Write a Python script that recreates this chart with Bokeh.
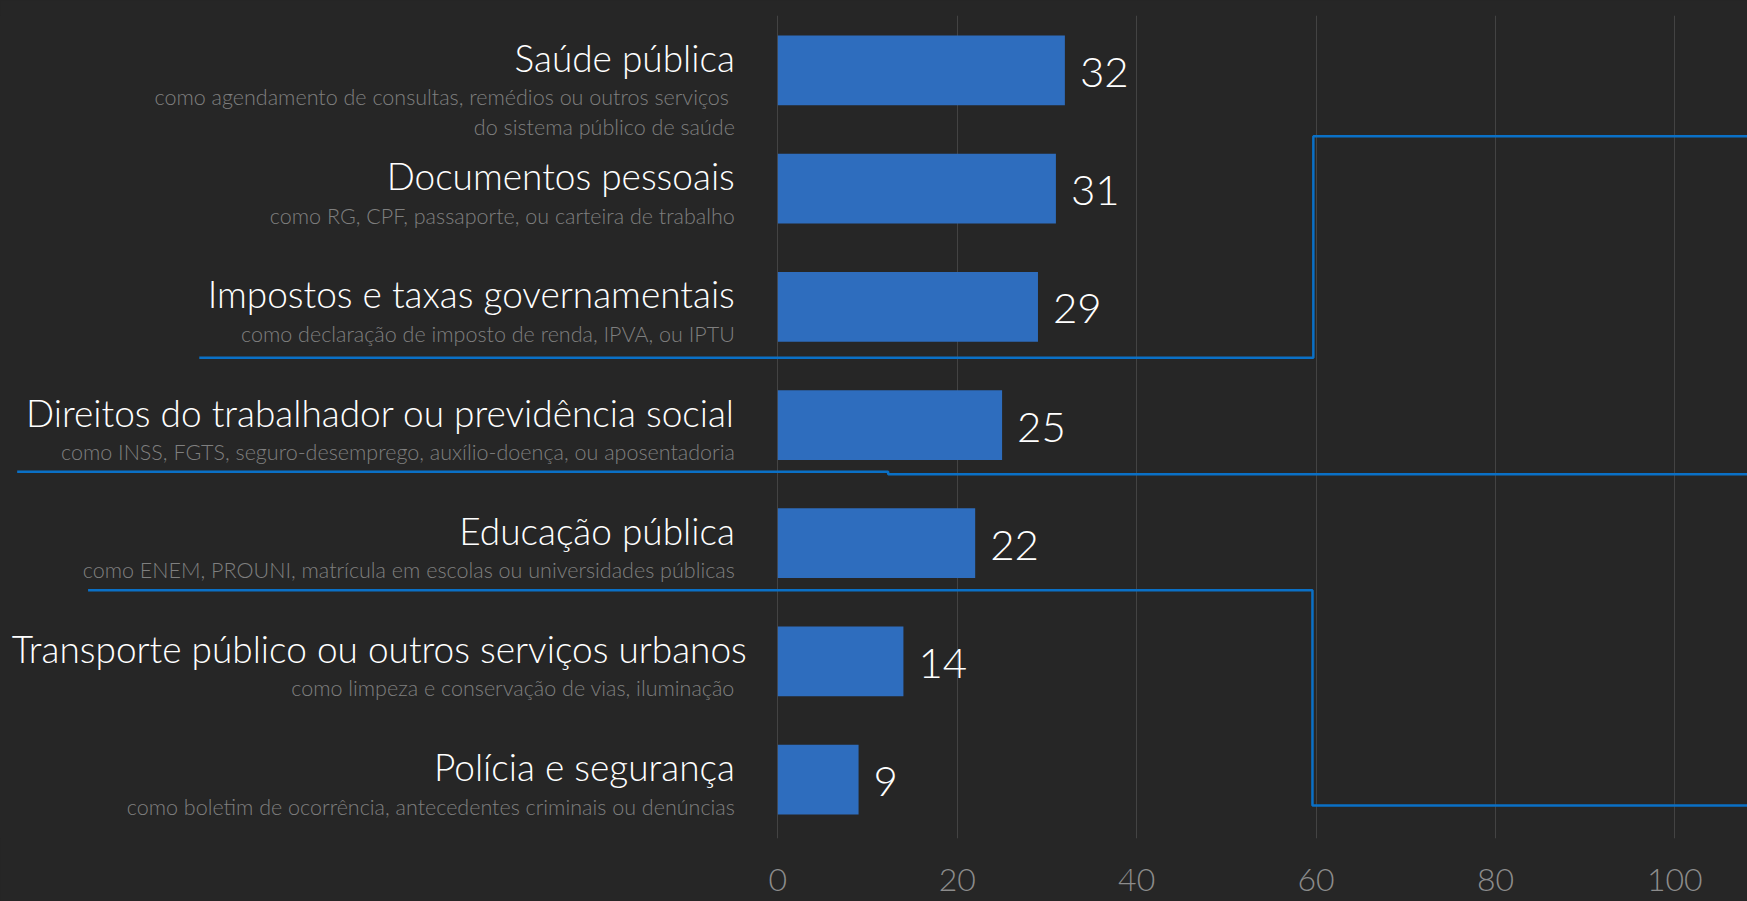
from bokeh.plotting import figure
from bokeh.models import ColumnDataSource, Range1d, FixedTicker
from bokeh.core.properties import value
from bokeh.embed import file_html
from bokeh.resources import INLINE

# ---------------- data ----------------
categories = [
    "Saúde pública",
    "Documentos pessoais",
    "Impostos e taxas governamentais",
    "Direitos do trabalhador ou previdência social",
    "Educação pública",
    "Transporte público ou outros serviços urbanos",
    "Polícia e segurança",
]
subtitles = [
    ["como agendamento de consultas, remédios ou outros serviços ", "do sistema público de saúde"],
    ["como RG, CPF, passaporte, ou carteira de trabalho"],
    ["como declaração de imposto de renda, IPVA, ou IPTU"],
    ["como INSS, FGTS, seguro-desemprego, auxílio-doença, ou aposentadoria"],
    ["como ENEM, PROUNI, matrícula em escolas ou universidades públicas"],
    ["como limpeza e conservação de vias, iluminação"],
    ["como boletim de ocorrência, antecedentes criminais ou denúncias"],
]
values = [32, 31, 29, 25, 22, 14, 9]
x_ticks = [0, 20, 40, 60, 80, 100]

# blue step connector lines (x in value units, y in row units)
line1_x = [-64.5, 59.7, 59.7, 115]
line1_y = [2.431, 2.431, 0.557, 0.557]
line2_x = [-84.8, 12.3, 12.3, 115]
line2_y = [3.396, 3.396, 3.416, 3.416]
line3_x = [-76.9, 59.6, 59.6, 115]
line3_y = [4.398, 4.398, 6.219, 6.219]

# ---------------- style ----------------
BG = "#262626"
BAR = "#2E6DBE"
LINE = "#0A70C6"
GRID = "#434343"
FONT = "Lato Light"

rows = list(range(len(categories)))

p = figure(
    frame_width=1747, frame_height=823,
    x_range=Range1d(-86.66, 108.1),
    y_range=Range1d(6.498, -0.4645),
    output_backend="svg", toolbar_location=None,
    y_axis_location=None,
    min_border_top=15, min_border_bottom=63, min_border_left=0, min_border_right=0,
    background_fill_color=BG, border_fill_color=BG, outline_line_color=None,
)
p.styles = {"background-color": BG}

# grid / axis
p.ygrid.visible = False
p.xgrid.grid_line_color = GRID
p.xgrid.grid_line_width = 1
p.xaxis.ticker = FixedTicker(ticks=x_ticks)
p.xaxis.axis_line_color = None
p.xaxis.major_tick_line_color = None
p.xaxis.minor_tick_line_color = None
p.xaxis.major_tick_out = 0
p.xaxis.major_tick_in = 0
p.xaxis.major_label_standoff = 30
p.xaxis.major_label_text_font = FONT
p.xaxis.major_label_text_font_size = "32px"
p.xaxis.major_label_text_color = "#8c8c8c"

# bars
src = ColumnDataSource(dict(y=rows, v=values, lab=[str(v) for v in values], cat=categories))
p.hbar(y="y", right="v", left=0, height=0.59, source=src, fill_color=BAR, line_color=None)

# connector lines
for lx, ly in ((line1_x, line1_y), (line2_x, line2_y), (line3_x, line3_y)):
    p.line(lx, ly, line_color=LINE, line_width=2.5)

# value labels
p.text(x="v", y="y", text="lab", source=src, x_offset=15, y_offset=2,
       text_font=value(FONT), text_font_size="42px", text_color="#ffffff",
       text_align="left", text_baseline="alphabetic")

# category titles
title_xoff = [-43] * len(categories)
title_xoff[5] = -31
src_t = ColumnDataSource(dict(x=[0] * len(categories), y=rows, t=categories, xo=title_xoff))
p.text(x="x", y="y", text="t", source=src_t, x_offset="xo", y_offset=-13,
       text_font=value(FONT), text_font_size="37px", text_color="#ffffff",
       text_align="right", text_baseline="alphabetic")

# subtitles
sx, sy, st, so = [], [], [], []
for r, lines in zip(rows, subtitles):
    for k, s in enumerate(lines):
        sx.append(0)
        sy.append(r)
        st.append(s)
        so.append(27 + 29.5 * k)
src_s = ColumnDataSource(dict(x=sx, y=sy, t=st, yo=so))
p.text(x="x", y="y", text="t", source=src_s, x_offset=-43, y_offset="yo",
       text_font=value(FONT), text_font_size="21.5px", text_color="#7f7f7f",
       text_align="right", text_baseline="alphabetic")

open("out.html", "w").write(file_html(p, INLINE))
